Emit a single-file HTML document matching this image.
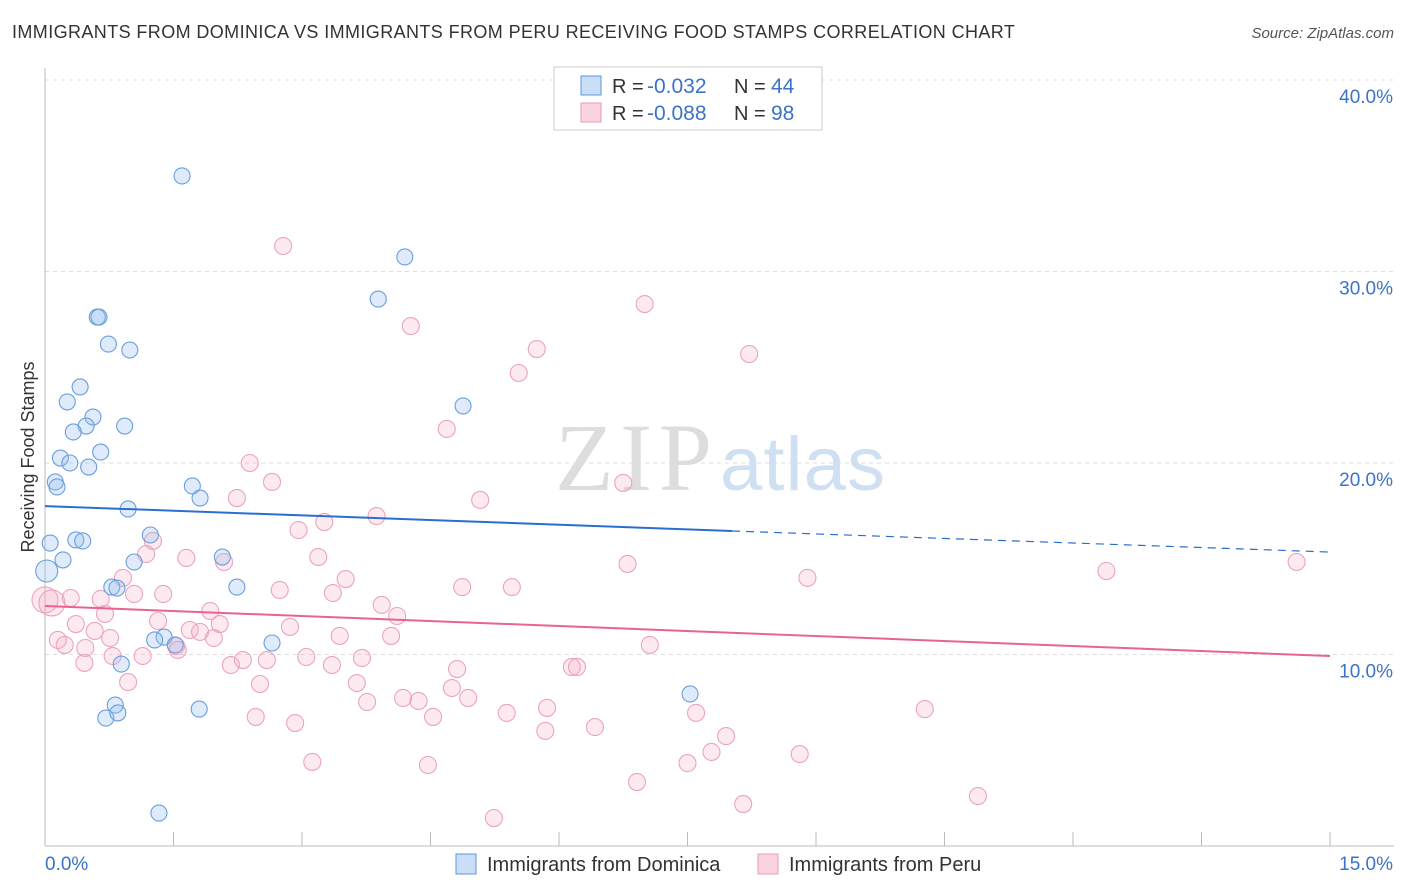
<!DOCTYPE html>
<html><head><meta charset="utf-8">
<style>
body{margin:0;background:#fff;font-family:"Liberation Sans",sans-serif;}
#wrap{position:relative;width:1406px;height:892px;overflow:hidden;}
.t{position:absolute;white-space:nowrap;}
</style></head>
<body>
<div id="wrap">
<div class="t" style="left:12px;top:22px;font-size:18px;color:#333;letter-spacing:0.4px;">IMMIGRANTS FROM DOMINICA VS IMMIGRANTS FROM PERU RECEIVING FOOD STAMPS CORRELATION CHART</div>
<div class="t" style="right:12px;top:25px;font-size:15px;color:#555;font-style:italic;">Source: ZipAtlas.com</div>
<svg id="svg" width="1406" height="892" style="position:absolute;left:0;top:0"></svg>
</div>
<script>
const domX=[1.60,4.20,3.89,0.61,0.63,0.74,0.99,0.41,0.26,0.56,0.48,0.33,0.93,4.88,0.65,0.18,0.29,0.51,0.12,0.14,1.72,1.81,0.97,0.06,0.36,0.44,1.23,0.21,1.04,2.07,0.02,0.78,0.84,2.24,1.39,1.28,1.52,2.65,0.89,7.53,0.82,1.80,0.71,0.85,1.33];
const domY=[34.99,30.76,28.56,27.62,27.62,26.21,25.90,23.97,23.19,22.40,21.93,21.62,21.93,22.98,20.57,20.26,20.00,19.79,19.01,18.75,18.80,18.17,17.60,15.82,15.98,15.93,16.24,14.94,14.83,15.09,14.36,13.52,13.47,13.52,10.91,10.76,10.50,10.60,9.50,7.94,7.36,7.15,6.68,6.95,1.72];
const peruX=[2.78,7.00,4.27,5.74,8.22,5.53,4.69,2.39,2.65,2.24,5.08,6.75,3.87,3.26,2.96,1.26,1.18,1.65,2.09,3.19,6.80,12.39,14.61,8.90,0.91,3.51,4.87,5.45,2.74,3.36,1.38,1.04,0.65,0.30,0.00,0.08,3.93,4.11,1.93,0.70,1.32,2.04,0.36,2.86,0.58,1.69,1.81,3.44,4.04,1.97,0.76,1.53,0.15,0.23,7.06,1.55,0.47,2.31,2.59,3.05,3.70,0.79,0.46,1.14,2.17,3.35,4.81,6.15,6.21,2.51,3.64,0.97,4.75,4.18,3.76,4.36,4.94,10.27,7.60,5.86,2.46,2.92,4.53,5.39,5.84,6.42,7.95,7.78,8.81,3.12,4.47,7.50,6.91,10.89,8.15,5.24];
const peruY=[31.33,28.30,27.15,25.95,25.69,24.70,21.78,20.00,19.01,18.17,18.07,18.96,17.23,16.92,16.50,15.93,15.25,15.04,14.83,15.09,14.73,14.36,14.83,14.00,14.00,13.94,13.52,13.52,13.37,13.21,13.16,13.16,12.90,12.95,12.85,12.69,12.59,12.01,12.27,12.12,11.75,11.59,11.59,11.44,11.23,11.28,11.18,10.97,10.97,10.86,10.86,10.44,10.76,10.50,10.50,10.24,10.34,9.71,9.71,9.87,9.82,9.92,9.56,9.92,9.45,9.45,9.24,9.35,9.35,8.46,8.51,8.56,8.25,7.73,7.52,7.57,7.73,7.15,6.95,7.21,6.74,6.42,6.74,6.95,6.01,6.21,5.74,4.91,4.80,4.39,4.23,4.33,3.34,2.61,2.19,1.46];
const domTrend=[17.75,16.45,15.35];
const domTrendX=[0,8.02,15];
const peruTrend=[12.53,9.92];
const yTicks=[10,20,30,40];
const yTickLabels=["10.0%","20.0%","30.0%","40.0%"];
const xTicks=[0,1.5,3,4.5,6,7.5,9,10.5,12,13.5,15];

const X=v=>45+v*1285/15;
const Y=v=>846-v*19.15;
const svg=document.getElementById('svg');
const NS='http://www.w3.org/2000/svg';
function mk(tag,attrs,name){const e=document.createElementNS(NS,tag);for(const k in attrs)e.setAttribute(k,attrs[k]);


svg.appendChild(e);return e;}
yTicks.forEach((v,i)=>{
 mk('line',{x1:45,x2:1394,y1:Y(v),y2:Y(v),stroke:'#ddd','stroke-dasharray':'4,4'},'y-gridline');
 const t=mk('text',{x:1393,y:Y(v)+23,'text-anchor':'end','font-size':19,fill:'#3b73c8','font-family':'Liberation Sans'},'y-tick-label');t.textContent=yTickLabels[i];
});
mk('line',{x1:45,x2:1394,y1:80,y2:80,stroke:'#ddd','stroke-dasharray':'4,4'},'top-gridline');
mk('line',{x1:45,x2:45,y1:68,y2:846,stroke:'#bbb'},'y-axis');
mk('line',{x1:45,x2:1394,y1:846,y2:846,stroke:'#bbb'},'x-axis');
xTicks.forEach(v=>mk('line',{x1:X(v),x2:X(v),y1:832,y2:846,stroke:'#bbb'},'x-tick'));
let w=mk('text',{x:555,y:490,'font-size':96,fill:'#ddd','font-family':'Liberation Serif','textLength':157},'watermark-zip');w.textContent='ZIP';
w=mk('text',{x:720,y:490,'font-size':76,fill:'#cfe0f3','font-family':'Liberation Sans','textLength':165},'watermark-atlas');w.textContent='atlas';
peruX.forEach((v,i)=>mk('circle',{cx:X(v),cy:Y(peruY[i]),r:(v<0.1?13:8.5),fill:'rgba(245,170,195,0.25)',stroke:'#eca3bc','stroke-width':1.1},'peru-point'));
domX.forEach((v,i)=>mk('circle',{cx:X(v),cy:Y(domY[i]),r:(v<0.05?11:8),fill:'rgba(150,190,240,0.3)',stroke:'#6a9edb','stroke-width':1.1},'dominica-point'));
mk('line',{x1:X(domTrendX[0]),y1:Y(domTrend[0]),x2:X(domTrendX[1]),y2:Y(domTrend[1]),stroke:'#2a6fd0','stroke-width':2},'dominica-trend-line');
mk('line',{x1:X(domTrendX[1]),y1:Y(domTrend[1]),x2:X(domTrendX[2]),y2:Y(domTrend[2]),stroke:'#2a6fd0','stroke-width':1.2,'stroke-dasharray':'8,6'},'dominica-trend-extension');
mk('line',{x1:X(0),y1:Y(peruTrend[0]),x2:X(15),y2:Y(peruTrend[1]),stroke:'#e8648e','stroke-width':2},'peru-trend-line');
let t=mk('text',{x:45,y:870,'font-size':19,fill:'#3b73c8','font-family':'Liberation Sans'},'x-min-label');t.textContent='0.0%';
t=mk('text',{x:1393,y:870,'text-anchor':'end','font-size':19,fill:'#3b73c8','font-family':'Liberation Sans'},'x-max-label');t.textContent='15.0%';
t=mk('text',{x:34,y:457,'text-anchor':'middle','font-size':18,fill:'#333','font-family':'Liberation Sans',transform:'rotate(-90 34 457)'},'y-axis-title');t.textContent='Receiving Food Stamps';
mk('rect',{x:554,y:67,width:268,height:63,fill:'#fff',stroke:'#ccc'},'stats-legend-box');
mk('rect',{x:581,y:76,width:20,height:19,fill:'rgba(150,190,240,0.5)',stroke:'#5d95d9'},'stats-dominica-swatch');
mk('rect',{x:581,y:103,width:20,height:19,fill:'rgba(245,170,195,0.5)',stroke:'#ea9ab6'},'stats-peru-swatch');
function st(x,y,s,c,n,fs){const e=mk('text',{x:x,y:y,'font-size':fs||20,fill:c,'font-family':'Liberation Sans'},n);e.textContent=s;}
st(612,93,'R =','#333','stats-r-label');st(647,93,'-0.032','#3b73c8','stats-dominica-r',21);st(734,93,'N =','#333','stats-n-label');st(771,93,'44','#3b73c8','stats-dominica-n',21);
st(612,120,'R =','#333','stats-r-label');st(647,120,'-0.088','#3b73c8','stats-peru-r',21);st(734,120,'N =','#333','stats-n-label');st(771,120,'98','#3b73c8','stats-peru-n',21);
mk('rect',{x:456,y:854,width:20,height:20,fill:'rgba(150,190,240,0.5)',stroke:'#5d95d9'},'legend-dominica-swatch');
st(487,871,'Immigrants from Dominica','#333','legend-dominica-label');
mk('rect',{x:758,y:854,width:20,height:20,fill:'rgba(245,170,195,0.5)',stroke:'#ea9ab6'},'legend-peru-swatch');
st(789,871,'Immigrants from Peru','#333','legend-peru-label');
</script>
</body></html>
